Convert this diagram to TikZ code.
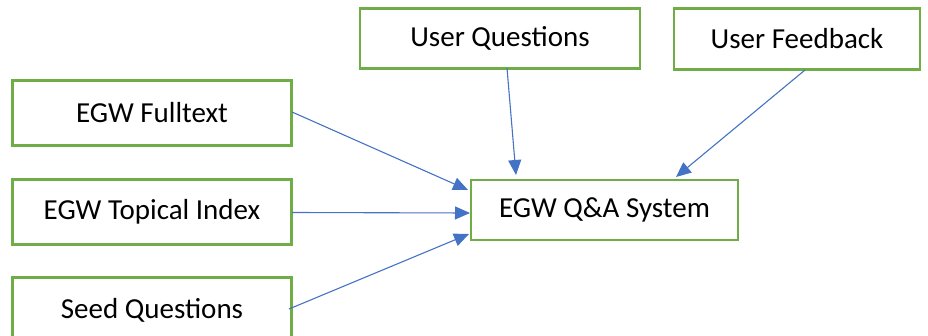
\documentclass[tikz,border=0pt]{standalone}
\usepackage{fontspec}
\setmainfont{Carlito}
\usetikzlibrary{arrows.meta}
\definecolor{boxgreen}{HTML}{70AD47}
\definecolor{arrblue}{HTML}{4472C4}
\begin{document}
\begin{tikzpicture}[x=1pt,y=-1pt,
  box/.style={draw=boxgreen,line width=2.8pt,fill=white,rectangle,inner sep=0pt,
    font=\fontsize{29}{33}\selectfont},
  link/.style={draw=arrblue,line width=1.1pt,-{Triangle[length=15pt,width=13pt]}}]
\useasboundingbox (0,0) rectangle (928,336);
\node[box,minimum width=279pt,minimum height=65pt] (ft) at (152,113) {EGW Fulltext};
\node[box,minimum width=279pt,minimum height=65pt] (ti) at (152,212) {EGW Topical Index};
\node[box,minimum width=279pt,minimum height=65pt] (sq) at (152,310) {Seed Questions};
\node[box,minimum width=280pt,minimum height=60pt] (uq) at (500,38.5) {User Questions};
\node[box,minimum width=246pt,minimum height=61pt] (uf) at (797,39) {User Feedback};
\node[box,minimum width=267pt,minimum height=60pt] (qa) at (604.5,210) {EGW Q\&A System};
\coordinate (s1) at (292,112);
\coordinate (s2) at (292,212.5);
\coordinate (s3) at (289,309);
\coordinate (s4) at (507,68);
\coordinate (s5) at (805,70);
\coordinate (t1) at (468,190);
\coordinate (t2) at (470,213);
\coordinate (t3) at (469,234);
\coordinate (t4) at (516,175);
\coordinate (t5) at (676,177);
\draw[link] (s1) -- (t1);
\draw[link] (s2) -- (t2);
\draw[link] (s3) -- (t3);
\draw[link] (s4) -- (t4);
\draw[link] (s5) -- (t5);
\end{tikzpicture}
\end{document}
